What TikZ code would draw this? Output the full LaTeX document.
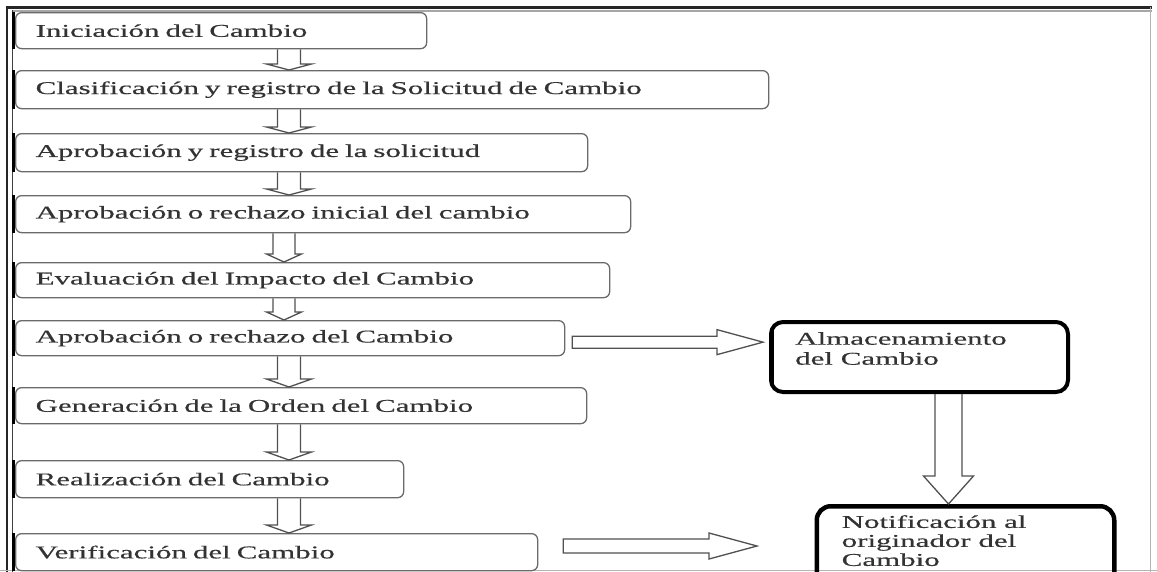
\documentclass[tikz,border=0pt]{standalone}
\usepackage{fontspec}
\setmainfont{Liberation Serif}
\newfontfamily\wideserif[FakeStretch=1.72,FakeBold=0.4]{Liberation Serif}
\usetikzlibrary{calc}

\definecolor{boxgray}{HTML}{6A6A6A}
\definecolor{inkgray}{HTML}{333333}
\definecolor{arrowgray}{HTML}{505050}
\definecolor{framegray}{HTML}{B4B4B4}

% hollow block arrow pointing down, from the bottom of #1 to the top of #2
% #3 centre x, #4 shaft half-width, #5 head half-width, #6 head height
\newcommand\downblock[6]{%
  \draw[blockarrow] let \p1=(#1.south), \p2=(#2.north) in
    (#3pt-#4pt,\y1) -- (#3pt-#4pt,\y2+#6pt) -- (#3pt-#5pt,\y2+#6pt)
    -- (#3pt,\y2) -- (#3pt+#5pt,\y2+#6pt) -- (#3pt+#4pt,\y2+#6pt)
    -- (#3pt+#4pt,\y1);}

\begin{document}
\begin{tikzpicture}[x=1pt,y=-1pt,
  txt/.style={font=\wideserif\fontsize{18}{20}\selectfont, text=inkgray},
  stepbox/.style={txt, draw=boxgray, line width=1.3pt, rounded corners=6pt,
    anchor=north west, inner xsep=20pt, inner ysep=0pt, align=left},
  edgebar/.style={line width=3pt, black},
  blockarrow/.style={draw=arrowgray, line width=1.3pt, line join=miter},
  heavybox/.style={draw=black, line width=4pt, rounded corners=12pt,
    anchor=north west, inner sep=0pt},
  notetext/.style={txt, anchor=north west, inner sep=0pt, align=left}]

\clip (0,0) rectangle (1157,571);
\fill[white] (0,0) rectangle (1157,571);

% frame of the sheet
\draw[line width=2.5pt, black!85] (6,7.5) -- (1152,7.5);
\draw[line width=1.2pt, black!35] (12,11) -- (1152,11);
\draw[line width=2pt, black!85] (7,7) -- (7,575);
\draw[line width=1.2pt, black!75] (12.5,10) -- (12.5,575);
\draw[line width=1pt, framegray] (1150,7) -- (1150,575);
\draw[line width=1pt, framegray] (0,570.5) -- (1157,570.5);

% process steps
\node[stepbox, text width=371pt, minimum height=36pt] (B1) at (15,12) {Iniciación del Cambio};
\node[stepbox, text width=713pt, minimum height=38pt] (B2) at (15,70) {Clasificación y registro de la Solicitud de Cambio};
\node[stepbox, text width=532pt, minimum height=38pt] (B3) at (15,133) {Aprobación y registro de la solicitud};
\node[stepbox, text width=575pt, minimum height=37pt] (B4) at (15,195) {Aprobación o rechazo inicial del cambio};
\node[stepbox, text width=554pt, minimum height=35pt] (B5) at (15,262) {Evaluación del Impacto del Cambio};
\node[stepbox, text width=509pt, minimum height=35pt] (B6) at (15,320) {Aprobación o rechazo del Cambio};
\node[stepbox, text width=531pt, minimum height=36pt] (B7) at (15,387) {Generación de la Orden del Cambio};
\node[stepbox, text width=348pt, minimum height=37pt] (B8) at (15,460) {Realización del Cambio};
\node[stepbox, text width=482pt, minimum height=37pt] (B9) at (15,533) {Verificación del Cambio};

\foreach \b in {B1,B2,B3,B4,B5,B6,B7,B8,B9}
  \draw[edgebar] ([xshift=-1.5pt]\b.north west) -- ([xshift=-1.5pt]\b.south west);

% side boxes
\node[heavybox, minimum width=297pt, minimum height=70pt] (A) at (769,320) {};
\node[notetext] (At) at ([xshift=26pt,yshift=-12pt]A.north west) {Almacenamiento\\del Cambio};
\draw[line width=1.2pt, black] ([xshift=4pt,yshift=-6pt]A.north west) -- ([xshift=4pt,yshift=6pt]A.south west);

\node[heavybox, line width=4.5pt, rounded corners=14pt, minimum width=297.5pt, minimum height=140pt] (N) at (814.5,504) {};
\node[notetext, font=\wideserif\fontsize{18}{19}\selectfont] (Nt) at ([xshift=27pt,yshift=-11pt]N.north west) {Notificación al\\originador del\\Cambio};

% flow between the steps
\downblock{B1}{B2}{289}{11.5}{22.5}{6}
\downblock{B2}{B3}{289}{11.5}{22.5}{6}
\downblock{B3}{B4}{289}{11.5}{22.5}{6}
\downblock{B4}{B5}{284}{11}{17.5}{8}
\downblock{B5}{B6}{284}{11}{17.5}{8}
\downblock{B6}{B7}{289}{11.5}{22.5}{8}
\downblock{B7}{B8}{289}{11.5}{22.5}{8}
\downblock{B8}{B9}{289}{11.5}{22.5}{8}
\downblock{A}{N}{948.5}{13.5}{25}{28}

% sideways flows
\draw[blockarrow] let \p1=([xshift=7pt,yshift=-4pt]B6.east), \p2=(A.west) in
  (\x1,\y1+6pt) -- (\x2-52pt,\y1+6pt) -- (\x2-52pt,\y1+12.5pt) -- (\x2-6pt,\y1)
  -- (\x2-52pt,\y1-12.5pt) -- (\x2-52pt,\y1-6pt) -- (\x1,\y1-6pt) -- cycle;

\coordinate (T) at (757,546);
\draw[blockarrow] let \p1=([xshift=25pt,yshift=5.5pt]B9.east), \p2=(T) in
  (\x1,\y2+7pt) -- (\x2-48pt,\y2+7pt) -- (\x2-48pt,\y2+13pt) -- (\x2,\y2)
  -- (\x2-48pt,\y2-13pt) -- (\x2-48pt,\y2-7pt) -- (\x1,\y2-7pt) -- cycle;

\end{tikzpicture}
\end{document}
